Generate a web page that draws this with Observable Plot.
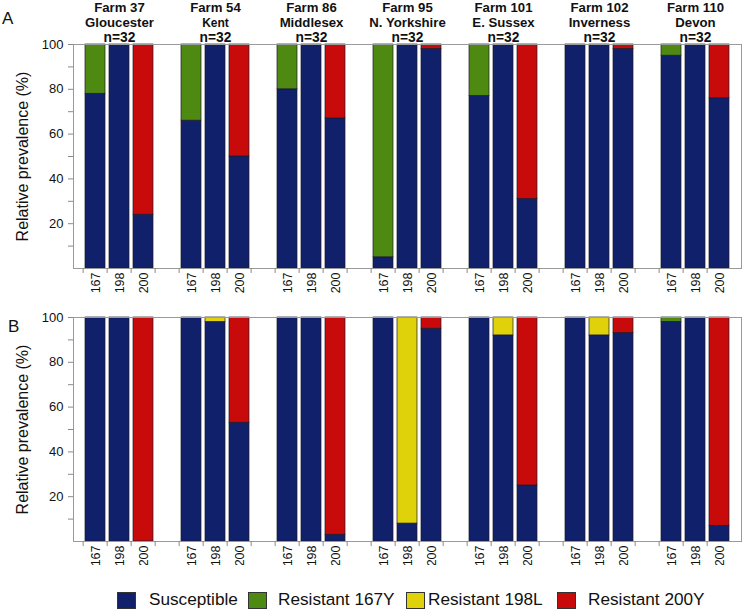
<!DOCTYPE html>
<html><head><meta charset="utf-8">
<script src="https://cdn.jsdelivr.net/npm/d3@7"></script>
<script src="https://cdn.jsdelivr.net/npm/@observablehq/plot@0.6"></script>
<style>
html,body{margin:0;padding:0;background:#fff;}
body{width:756px;height:610px;overflow:hidden;position:relative;font-family:"Liberation Sans",Arial,sans-serif;}
#a{position:absolute;left:0;top:0;}
#b{position:absolute;left:0;top:298px;}
.panel-label{position:absolute;font-size:17px;color:#111;}
.leg-sq{position:absolute;top:592px;width:17px;height:15px;border:1px solid #333;}
.leg-tx{position:absolute;top:589px;font-size:17.2px;color:#111;line-height:20px;white-space:nowrap;}
</style></head><body>
<div id="a"></div><div id="b"></div>
<div class="panel-label" style="left:2px;top:9px;">A</div>
<div class="panel-label" style="left:8px;top:317px;">B</div>
<div id="legend"></div>
<script>
const farms = ["Farm 37","Farm 54","Farm 86","Farm 95","Farm 101","Farm 102","Farm 110"];
const locations = ["Gloucester","Kent","Middlesex","N. Yorkshire","E. Sussex","Inverness","Devon"];
const sampleSizes = ["n=32","n=32","n=32","n=32","n=32","n=32","n=32"];
const codons = ["167","198","200"];
const statuses = ["Susceptible","Resistant 167Y","Resistant 198L","Resistant 200Y"];
const statusColors = ["#10206a","#4e8a12","#e0d20a","#c80a0a"];
const resistantStatusByCodon = ["Resistant 167Y","Resistant 198L","Resistant 200Y"];
const yTicks = [10,20,30,40,50,60,70,80,90,100];
const yTickLabels = [20,40,60,80,100];

// Panel A: percent per farm, per codon [167,198,200]
const susceptibleA = [[78,100,24],[66,100,50],[80,100,67],[5,100,98],[77,100,31],[100,100,98],[95,100,76]];
const resistantA   = [[22,0,76],[34,0,50],[20,0,33],[95,0,2],[23,0,69],[0,0,2],[5,0,24]];
// Panel B
const susceptibleB = [[100,100,0],[100,98,53],[100,100,3],[100,8,95],[100,92,25],[100,92,93],[98,100,7]];
const resistantB   = [[0,0,100],[0,2,47],[0,0,97],[0,92,5],[0,8,75],[0,8,7],[2,0,93]];

// slots: 3 codon bars per farm, with an empty slot between farms
const slots = [];
farms.forEach((f, g) => {
  codons.forEach(c => slots.push(`${g}-${c}`));
  if (g < farms.length - 1) slots.push(`${g}-gap`);
});

function rowsFor(sus, res) {
  const rows = [];
  farms.forEach((f, g) => {
    codons.forEach((c, k) => {
      if (sus[g][k] > 0) rows.push({slot: `${g}-${c}`, status: "Susceptible", value: sus[g][k]});
      if (res[g][k] > 0) rows.push({slot: `${g}-${c}`, status: resistantStatusByCodon[k], value: res[g][k]});
    });
  });
  return rows;
}

const W = 756, ML = 73, MR = 15;
const step = (W - ML - MR) / slots.length;

function panel(sus, res, {height, marginTop, marginBottom, titles}) {
  const marks = [
    Plot.barY(rowsFor(sus, res), {x: "slot", y: "value", fill: "status", order: statuses, stroke: "#1a1a2a", strokeWidth: 0.7}),
    Plot.frame({stroke: "#9a9a9a"}),
    Plot.axisY({ticks: yTicks, tickSize: 5, tickPadding: 5, tickFormat: d => yTickLabels.includes(d) ? d : "", label: null, fontSize: 13, stroke: "#8a8a8a", fill: "#111"}),
    Plot.axisX({ticks: slots, tickSize: 5, tickFormat: () => "", label: null, dx: -step / 2, stroke: "#8a8a8a"}),
    Plot.axisX({ticks: slots.filter(s => !s.endsWith("gap")), tickSize: 0, tickPadding: 4, tickRotate: -90, tickFormat: s => s.split("-")[1], label: null, fontSize: 12.5, fill: "#111"}),
    Plot.text(["Relative prevalence (%)"], {frameAnchor: "left", textAnchor: "middle", dx: -51, rotate: -90, fontSize: 16, fill: "#111"})
  ];
  if (titles) {
    const mid = (d, i) => `${i}-198`;
    marks.push(
      Plot.text(farms, {x: mid, y: () => 100, dy: -36.5, text: d => d, fontSize: 13.2, fontWeight: "bold", fill: "#111"}),
      Plot.text(locations, {filter: d => d !== "Kent", x: mid, y: () => 100, dy: -22, text: d => d, fontSize: 13.2, fontWeight: "bold", fill: "#111"}),
      Plot.text(locations, {filter: d => d === "Kent", x: mid, y: () => 100, dy: -21.5, text: d => d, fontSize: 12, fontWeight: "bold", fill: "#111"}),
      Plot.text(sampleSizes, {x: mid, y: () => 100, dy: -7.3, text: d => d, fontSize: 13.8, fontWeight: "bold", fill: "#111"})
    );
  }
  return Plot.plot({
    width: W, height, marginLeft: ML, marginRight: MR, marginTop, marginBottom,
    style: {fontFamily: "'Liberation Sans', Arial, sans-serif", background: "#fff"},
    x: {domain: slots, paddingInner: 0.15, paddingOuter: 0.075, axis: null},
    y: {domain: [0, 100], axis: null},
    color: {domain: statuses, range: statusColors},
    marks
  });
}

document.getElementById("a").append(panel(susceptibleA, resistantA, {height: 298, marginTop: 44, marginBottom: 30, titles: true}));
document.getElementById("b").append(panel(susceptibleB, resistantB, {height: 267, marginTop: 19, marginBottom: 24, titles: false}));

const legSqX = [117, 248, 406, 557];
const legTxX = [149, 278, 428, 588];
const legend = document.getElementById("legend");
statuses.forEach((s, i) => {
  const sq = document.createElement("div");
  sq.className = "leg-sq"; sq.style.left = legSqX[i] + "px"; sq.style.background = statusColors[i];
  const tx = document.createElement("div");
  tx.className = "leg-tx"; tx.style.left = legTxX[i] + "px"; tx.textContent = s;
  legend.append(sq, tx);
});
</script>
</body></html>
